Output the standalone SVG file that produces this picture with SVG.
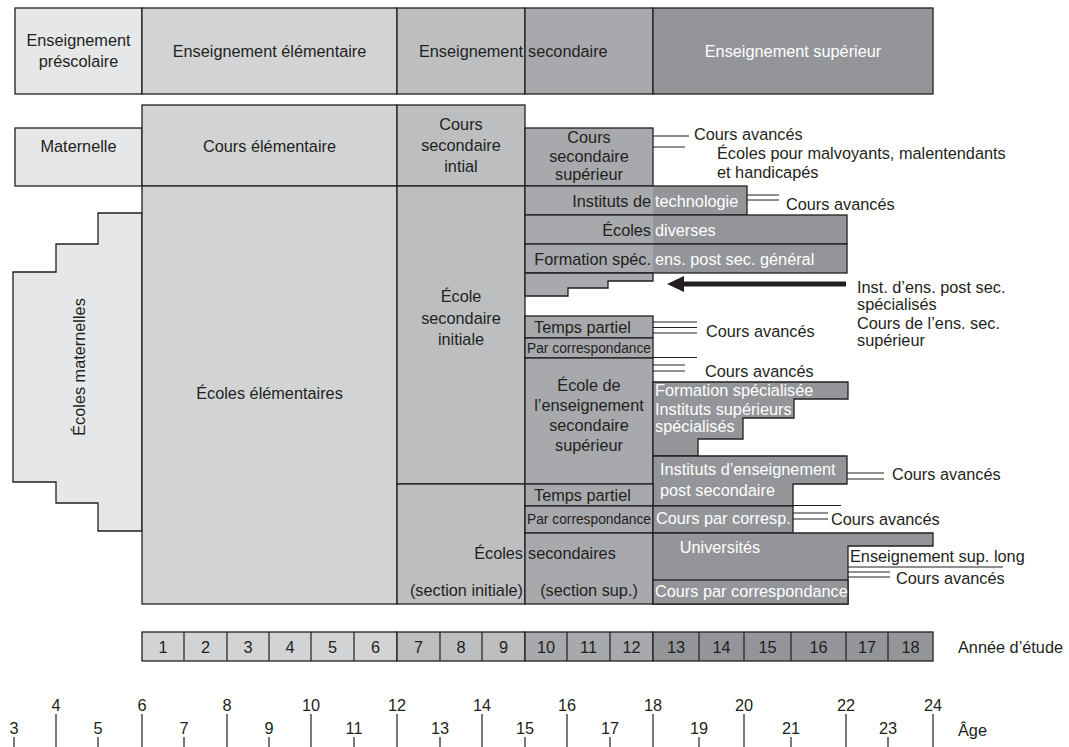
<svg xmlns="http://www.w3.org/2000/svg" width="1069" height="747" viewBox="0 0 1069 747">
<style>
.t{font-family:'Liberation Sans',Arial,sans-serif;font-size:16.3px;fill:#231f20}
.w{fill:#ffffff}
.c{text-anchor:middle}
.e{text-anchor:end}
.s{font-size:14px}
.b{stroke:#231f20;stroke-width:1.3}
.o{fill:none;stroke:#231f20;stroke-width:1.3}
.f0{fill:#e6e7e8}.f1{fill:#d1d3d4}.f2{fill:#bcbec0}.f3{fill:#a7a9ac}.f4{fill:#939598}
.ln{stroke:#231f20;stroke-width:1.2;fill:none}
</style>
<rect width="1069" height="747" fill="#ffffff"/>

<!-- header -->
<g id="h-prescolaire"><rect class="b f0" x="15" y="8" width="127" height="86"/><text class="t c" x="78.5" y="46">Enseignement</text><text class="t c" x="78.5" y="67">préscolaire</text></g>
<g id="h-elementaire"><rect class="b f1" x="142" y="8" width="255" height="86"/><text class="t c" x="269.5" y="57">Enseignement élémentaire</text></g>
<g id="h-sec1"><rect class="b f2" x="397" y="8" width="128" height="86"/><text class="t e" x="523" y="57">Enseignement</text></g>
<g id="h-sec2"><rect class="b f3" x="525" y="8" width="128" height="86"/><text class="t" x="528" y="57">secondaire</text></g>
<g id="h-superieur"><rect class="b f4" x="653" y="8" width="280" height="86"/><text class="t c w" x="793" y="57">Enseignement supérieur</text></g>

<!-- row 2 -->
<g id="maternelle"><rect class="b f0" x="15" y="128" width="127" height="58"/><text class="t c" x="78.5" y="152">Maternelle</text></g>
<g id="cours-elem"><rect class="b f1" x="142" y="105" width="255" height="81"/><text class="t c" x="269.5" y="152">Cours élémentaire</text></g>
<g id="cours-sec-init"><rect class="b f2" x="397" y="105" width="128" height="81"/><text class="t c" x="461" y="130">Cours</text><text class="t c" x="461" y="151">secondaire</text><text class="t c" x="461" y="172">intial</text></g>
<g id="cours-sec-sup"><rect class="b f3" x="525" y="128" width="128" height="58"/><text class="t c" x="589" y="143">Cours</text><text class="t c" x="589" y="162">secondaire</text><text class="t c" x="589" y="180">supérieur</text></g>

<!-- left -->
<g id="ecoles-maternelles"><polygon class="b f0" points="142,213 98,213 98,244 56,244 56,272 13,272 13,482 56,482 56,503 98,503 98,531 142,531"/><text class="t c" transform="translate(85,367) rotate(-90)">Écoles maternelles</text></g>
<g id="ecoles-elem"><rect class="b f1" x="142" y="186" width="255" height="418"/><text class="t c" x="269.5" y="399">Écoles élémentaires</text></g>
<g id="ecole-sec-init"><rect class="b f2" x="397" y="186" width="128" height="298"/><text class="t c" x="461" y="302">École</text><text class="t c" x="461" y="324">secondaire</text><text class="t c" x="461" y="345">initiale</text></g>
<g id="ecoles-sec-init2"><rect class="b f2" x="397" y="484" width="128" height="120"/><text class="t e" x="523" y="559">Écoles</text><text class="t e" x="523" y="596">(section initiale)</text></g>

<!-- right column -->
<g id="inst-tech"><rect class="f4" x="525" y="186" width="222" height="29"/><rect class="f3" x="525" y="186" width="128" height="29"/><rect class="o" x="525" y="186" width="222" height="29"/><text class="t e" x="651" y="207">Instituts de</text><text class="t w" x="655" y="207">technologie</text></g>
<g id="ecoles-diverses"><rect class="f4" x="525" y="215" width="322" height="29"/><rect class="f3" x="525" y="215" width="128" height="29"/><rect class="o" x="525" y="215" width="322" height="29"/><text class="t e" x="651" y="236">Écoles</text><text class="t w" x="655" y="236">diverses</text></g>
<g id="formation-spec"><rect class="f4" x="525" y="244" width="322" height="29"/><rect class="f3" x="525" y="244" width="128" height="29"/><rect class="o" x="525" y="244" width="322" height="29"/><text class="t e" x="651" y="265">Formation spéc.</text><text class="t w" x="655" y="265">ens. post sec. général</text></g>
<g id="stair"><polygon class="b f3" points="525,273 653,273 653,281 608,281 608,288 568,288 568,296 525,296"/></g>
<g id="inst-post-spec"><text class="t" x="857" y="293">Inst. d’ens. post sec.</text><text class="t" x="857" y="310">spécialisés</text><text class="t" x="857" y="329">Cours de l’ens. sec.</text><text class="t" x="857" y="346">supérieur</text></g>

<g id="temps-partiel-1"><rect class="b f3" x="525" y="316" width="128" height="22"/><text class="t" x="534" y="333">Temps partiel</text></g>
<g id="par-corr-1"><rect class="b f3" x="525" y="338" width="128" height="20"/><text class="t s" x="527" y="353" textLength="124" lengthAdjust="spacingAndGlyphs">Par correspondance</text></g>
<g id="ecole-ens-sec-sup"><rect class="b f3" x="525" y="358" width="128" height="126"/><text class="t c" x="589" y="391">École de</text><text class="t c" x="589" y="411">l’enseignement</text><text class="t c" x="589" y="431">secondaire</text><text class="t c" x="589" y="451">supérieur</text></g>
<g id="formation-specialisee"><polygon class="b f4" points="653,382 848,382 848,399 794,399 794,418 743,418 743,439 698,439 698,456 653,456"/><text class="t w" x="655" y="396">Formation spécialisée</text><text class="t w" x="655" y="415">Instituts supérieurs</text><text class="t w" x="655" y="432">spécialisés</text></g>
<g id="inst-ens-post-sec"><polygon class="b f4" points="653,456 847,456 847,484 793,484 793,506 653,506"/><text class="t w" x="660" y="475">Instituts d’enseignement</text><text class="t w" x="660" y="496">post secondaire</text></g>
<g id="temps-partiel-2"><rect class="b f3" x="525" y="484" width="128" height="22"/><text class="t" x="534" y="501">Temps partiel</text></g>
<g id="par-corr-2"><rect class="b f3" x="525" y="506" width="128" height="27"/><text class="t s" x="527" y="524" textLength="124" lengthAdjust="spacingAndGlyphs">Par correspondance</text></g>
<g id="cours-par-corresp"><rect class="b f4" x="653" y="506" width="140" height="27"/><text class="t w" x="656" y="524">Cours par corresp.</text></g>
<g id="ecoles-sec-sup"><rect class="b f3" x="525" y="533" width="128" height="71"/><text class="t" x="528" y="559">secondaires</text><text class="t c" x="589" y="596">(section sup.)</text></g>
<g id="universites"><polygon class="b f4" points="653,533 933,533 933,546 848,546 848,604 653,604"/><text class="t c w" x="720" y="553">Universités</text></g>
<g id="cours-par-correspondance"><rect class="b f4" x="653" y="580" width="195" height="24"/><text class="t w" x="655" y="597">Cours par correspondance</text></g>

<!-- side labels -->
<g id="labels">
<text class="t" x="694" y="140">Cours avancés</text>
<text class="t" x="717" y="159">Écoles pour malvoyants, malentendants</text>
<text class="t" x="717" y="178">et handicapés</text>
<text class="t" x="786" y="210">Cours avancés</text>
<text class="t" x="706" y="337">Cours avancés</text>
<text class="t" x="705" y="377">Cours avancés</text>
<text class="t" x="892" y="480">Cours avancés</text>
<text class="t" x="831" y="525">Cours avancés</text>
<text class="t" x="850" y="562">Enseignement sup. long</text>
<text class="t" x="896" y="584">Cours avancés</text>
</g>

<!-- connectors -->
<g id="connectors">
<path class="ln" d="M653,136H689M653,147H685"/>
<path class="ln" d="M747,195H779M747,200H779"/>
<path class="ln" d="M653,322H697M653,327.5H697M653,333H697"/>
<path class="ln" d="M653,357.5H697M653,365H685M653,371H685"/>
<path class="ln" d="M847,473H884M847,479H884"/>
<path class="ln" d="M793,505.5H841M793,513H828M793,519H828"/>
<path class="ln" d="M848,567H1003M848,572H890M848,577H890"/>
<line x1="846" y1="284" x2="680" y2="284" stroke="#231f20" stroke-width="5"/>
<polygon points="667,284 684,276 684,292" fill="#231f20"/>
</g>

<!-- year row -->
<g id="annees">
<rect class="b f1" x="142" y="632" width="255" height="29"/>
<rect class="b f2" x="397" y="632" width="128" height="29"/>
<rect class="b f3" x="525" y="632" width="128" height="29"/>
<rect class="b f4" x="653" y="632" width="280" height="29"/>
<path class="ln" d="M184,632V661M227,632V661M269,632V661M311,632V661M354,632V661M440,632V661M482,632V661M567,632V661M610,632V661M699,632V661M744,632V661M791,632V661M846,632V661M888,632V661"/>
<text class="t c" x="163" y="653">1</text><text class="t c" x="205.5" y="653">2</text><text class="t c" x="248" y="653">3</text><text class="t c" x="290" y="653">4</text><text class="t c" x="332.5" y="653">5</text><text class="t c" x="375.5" y="653">6</text><text class="t c" x="418.5" y="653">7</text><text class="t c" x="461" y="653">8</text><text class="t c" x="503.5" y="653">9</text><text class="t c" x="546" y="653">10</text><text class="t c" x="588.5" y="653">11</text><text class="t c" x="631.5" y="653">12</text><text class="t c" x="676" y="653">13</text><text class="t c" x="721.5" y="653">14</text><text class="t c" x="767.5" y="653">15</text><text class="t c" x="818.5" y="653">16</text><text class="t c" x="867" y="653">17</text><text class="t c" x="910.5" y="653">18</text>
<text class="t" x="958" y="653">Année d’étude</text>
</g>

<!-- ages -->
<g id="ages">
<path class="ln" d="M14,737V747M56,714V747M98,737V747M142,714V747M184,737V747M227,714V747M269,737V747M311,714V747M354,737V747M397,714V747M440,737V747M482,714V747M525,737V747M567,714V747M610,737V747M653,714V747M699,737V747M744,714V747M791,737V747M846,714V747M888,737V747M933,714V747"/>
<text class="t c" x="14" y="734">3</text><text class="t c" x="56" y="711">4</text><text class="t c" x="98" y="734">5</text><text class="t c" x="142" y="711">6</text><text class="t c" x="184" y="734">7</text><text class="t c" x="227" y="711">8</text><text class="t c" x="269" y="734">9</text><text class="t c" x="311" y="711">10</text><text class="t c" x="354" y="734">11</text><text class="t c" x="397" y="711">12</text><text class="t c" x="440" y="734">13</text><text class="t c" x="482" y="711">14</text><text class="t c" x="525" y="734">15</text><text class="t c" x="567" y="711">16</text><text class="t c" x="610" y="734">17</text><text class="t c" x="653" y="711">18</text><text class="t c" x="699" y="734">19</text><text class="t c" x="744" y="711">20</text><text class="t c" x="791" y="734">21</text><text class="t c" x="846" y="711">22</text><text class="t c" x="888" y="734">23</text><text class="t c" x="933" y="711">24</text>
<text class="t" x="958" y="736">Âge</text>
</g>
</svg>
